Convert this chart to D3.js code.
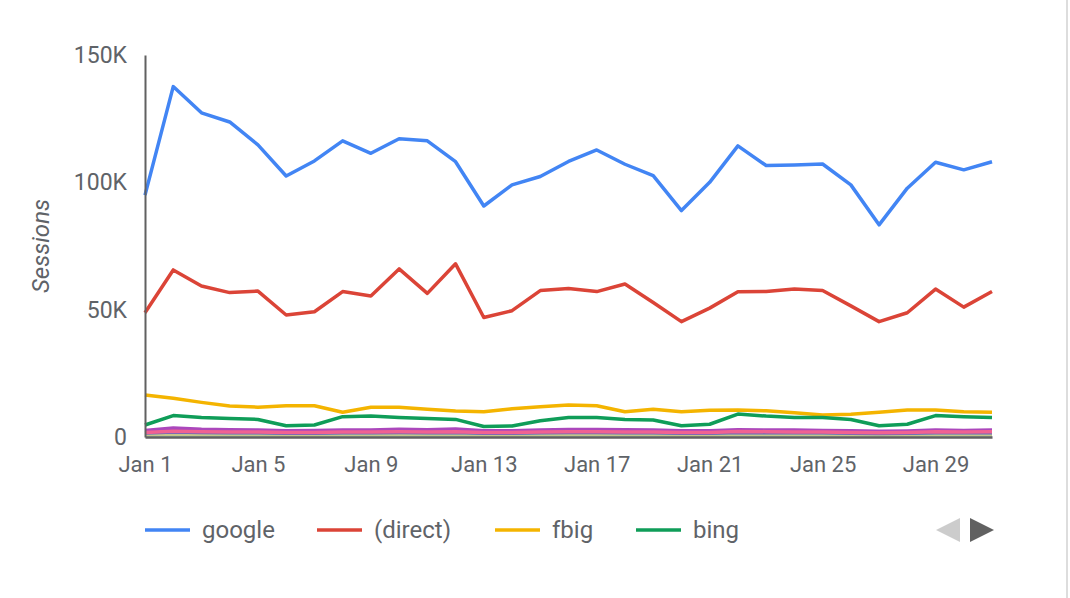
<!DOCTYPE html>
<html>
<head>
<meta charset="utf-8">
<script src="https://cdn.jsdelivr.net/npm/d3@7"></script>
<style>
  body { margin: 0; background: #fff; }
  text { font-family: Roboto, "Noto Sans", sans-serif; }
</style>
</head>
<body>
<script>
const width = 1070;
const height = 598;

// data: daily sessions for January
const days = d3.range(1, 32);
const tickDays = [1, 5, 9, 13, 17, 21, 25, 29];
const yTicks = [0, 50000, 100000, 150000];
const yTickLabels = ["0", "50K", "100K", "150K"];

const googleValues = [95000, 137600, 127300, 123700, 114700, 102500, 108400, 116300, 111400, 117100,
    116300, 108100, 90700, 99000, 102300, 108200, 112700, 107100, 102600, 88900,
    100000, 114300, 106600, 106800, 107200, 99000, 83300, 97700, 107900, 104900, 108100];
const directValues = [48800, 65600, 59300, 56700, 57300, 47900, 49200, 57100, 55400, 66000,
    56400, 68000, 46900, 49600, 57500, 58300, 57100, 60100, 52800, 45300,
    50600, 57000, 57100, 58100, 57500, 51500, 45300, 48800, 58100, 51000, 57100];
const fbigValues = [16500, 15200, 13600, 12200, 11700, 12300, 12300, 9700, 11700, 11700,
    10900, 10200, 9900, 11100, 11900, 12600, 12300, 9900, 10900, 9900,
    10500, 10600, 10300, 9500, 8600, 8900, 9700, 10600, 10600, 9900, 9700];
const bingValues = [4700, 8400, 7700, 7300, 6900, 4400, 4700, 8000, 8200, 7700,
    7300, 6900, 4100, 4300, 6400, 7700, 7700, 6900, 6700, 4400,
    5000, 9000, 8200, 7700, 7700, 6900, 4400, 5000, 8400, 8000, 7700];
const src5Values = [2600, 3500, 3000, 2800, 2700, 2500, 2600, 2700, 2700, 3000,
    2800, 3100, 2500, 2500, 2700, 2900, 2900, 2800, 2700, 2500,
    2500, 2800, 2700, 2700, 2600, 2500, 2300, 2400, 2700, 2600, 2700];
const src6Values = [600, 700, 600, 600, 600, 500, 500, 600, 600, 600,
    600, 600, 500, 500, 600, 600, 600, 600, 600, 500,
    500, 600, 600, 600, 600, 500, 500, 500, 600, 600, 600];
const src7Values = [1200, 1500, 1300, 1300, 1200, 1100, 1100, 1300, 1300, 1400,
    1300, 1400, 1100, 1100, 1200, 1300, 1300, 1300, 1200, 1100,
    1100, 1300, 1300, 1300, 1200, 1100, 1000, 1100, 1300, 1200, 1300];
const src8Values = [900, 1000, 900, 900, 900, 800, 800, 900, 900, 900,
    900, 900, 800, 800, 900, 900, 900, 900, 900, 800,
    800, 900, 900, 900, 900, 800, 800, 800, 900, 900, 900];
const src9Values = [1600, 2000, 1800, 1700, 1700, 1500, 1500, 1700, 1700, 1800,
    1700, 1800, 1500, 1500, 1700, 1800, 1800, 1700, 1700, 1500,
    1500, 1800, 1700, 1700, 1700, 1500, 1400, 1500, 1700, 1700, 1700];
const src10Values = [1800, 2300, 2100, 2000, 2000, 1800, 1800, 2000, 2000, 2100,
    2000, 2100, 1800, 1800, 2000, 2100, 2100, 2000, 2000, 1800,
    1800, 2200, 2100, 2000, 2000, 1800, 1700, 1800, 2100, 2000, 2100];

const seriesNames = ["google", "(direct)", "fbig", "bing", "source 5", "source 6", "source 7", "source 8", "source 9", "source 10"];
const seriesValues = [googleValues, directValues, fbigValues, bingValues, src5Values,
    src6Values, src7Values, src8Values, src9Values, src10Values];
const seriesColors = ["#4285f4", "#db4437", "#f4b400", "#0f9d58", "#ab47bc",
    "#80deea", "#ffab91", "#c5c58a", "#5c6bc0", "#f06292"];
const legendCount = 4;

const margin = {left: 145, top: 55, right: 78, bottom: 161};

const svg = d3.select("body")
    .append("svg")
    .attr("width", width)
    .attr("height", height);

const x = d3.scaleLinear()
    .domain([1, 31])
    .range([margin.left, width - margin.right]);

const y = d3.scaleLinear()
    .domain([0, 150000])
    .range([height - margin.bottom, margin.top]);

const textColor = "#5f6368";
const axisColor = "#616161";

// lines in series order, later series on top
const line = d3.line()
    .x((d, i) => x(days[i]))
    .y(d => y(d));

seriesValues.forEach((vals, s) => {
    svg.append("path")
        .datum(vals)
        .attr("fill", "none")
        .attr("stroke", seriesColors[s])
        .attr("stroke-width", 3.5)
        .attr("stroke-linejoin", "round")
        .attr("d", line);
});

// y axis
const yAxis = svg.append("g")
    .attr("transform", `translate(${margin.left},0)`)
    .call(d3.axisLeft(y).tickValues(yTicks).tickFormat((d, i) => yTickLabels[i]).tickSize(0).tickPadding(18));
yAxis.select(".domain").attr("stroke", axisColor).attr("stroke-width", 2);
yAxis.selectAll("text")
    .attr("fill", textColor)
    .attr("font-size", 23)
    .attr("font-family", "Roboto, sans-serif");

// x axis
const xAxis = svg.append("g")
    .attr("transform", `translate(0,${y(0)})`)
    .call(d3.axisBottom(x).tickValues(tickDays).tickFormat(d => "Jan " + d).tickSize(0).tickPadding(19));
xAxis.select(".domain").attr("stroke", axisColor).attr("stroke-width", 2.5);
xAxis.selectAll("text")
    .attr("fill", textColor)
    .attr("font-size", 22)
    .attr("font-family", "Roboto, sans-serif");

// y axis title
svg.append("text")
    .attr("transform", `translate(49,246) rotate(-90)`)
    .attr("text-anchor", "middle")
    .attr("fill", textColor)
    .attr("font-size", 24)
    .attr("font-style", "italic")
    .text("Sessions");

// legend
const legendX = [145, 317, 495, 636];
const legendY = 530;
for (let i = 0; i < legendCount; i++) {
    svg.append("line")
        .attr("x1", legendX[i])
        .attr("x2", legendX[i] + 45)
        .attr("y1", legendY)
        .attr("y2", legendY)
        .attr("stroke", seriesColors[i])
        .attr("stroke-width", 3.5);
    svg.append("text")
        .attr("x", legendX[i] + 57)
        .attr("y", legendY + 8)
        .attr("fill", textColor)
        .attr("font-size", 24)
        .text(seriesNames[i]);
}

// legend paging arrows
svg.append("path")
    .attr("d", "M936,530 L960,518 L960,542 Z")
    .attr("fill", "#cccccc");
svg.append("path")
    .attr("d", "M970,518 L994,530 L970,542 Z")
    .attr("fill", "#616161");

// right border line
svg.append("line")
    .attr("x1", 1067)
    .attr("x2", 1067)
    .attr("y1", 0)
    .attr("y2", height)
    .attr("stroke", "#dddddd")
    .attr("stroke-width", 2);
</script>
</body>
</html>
